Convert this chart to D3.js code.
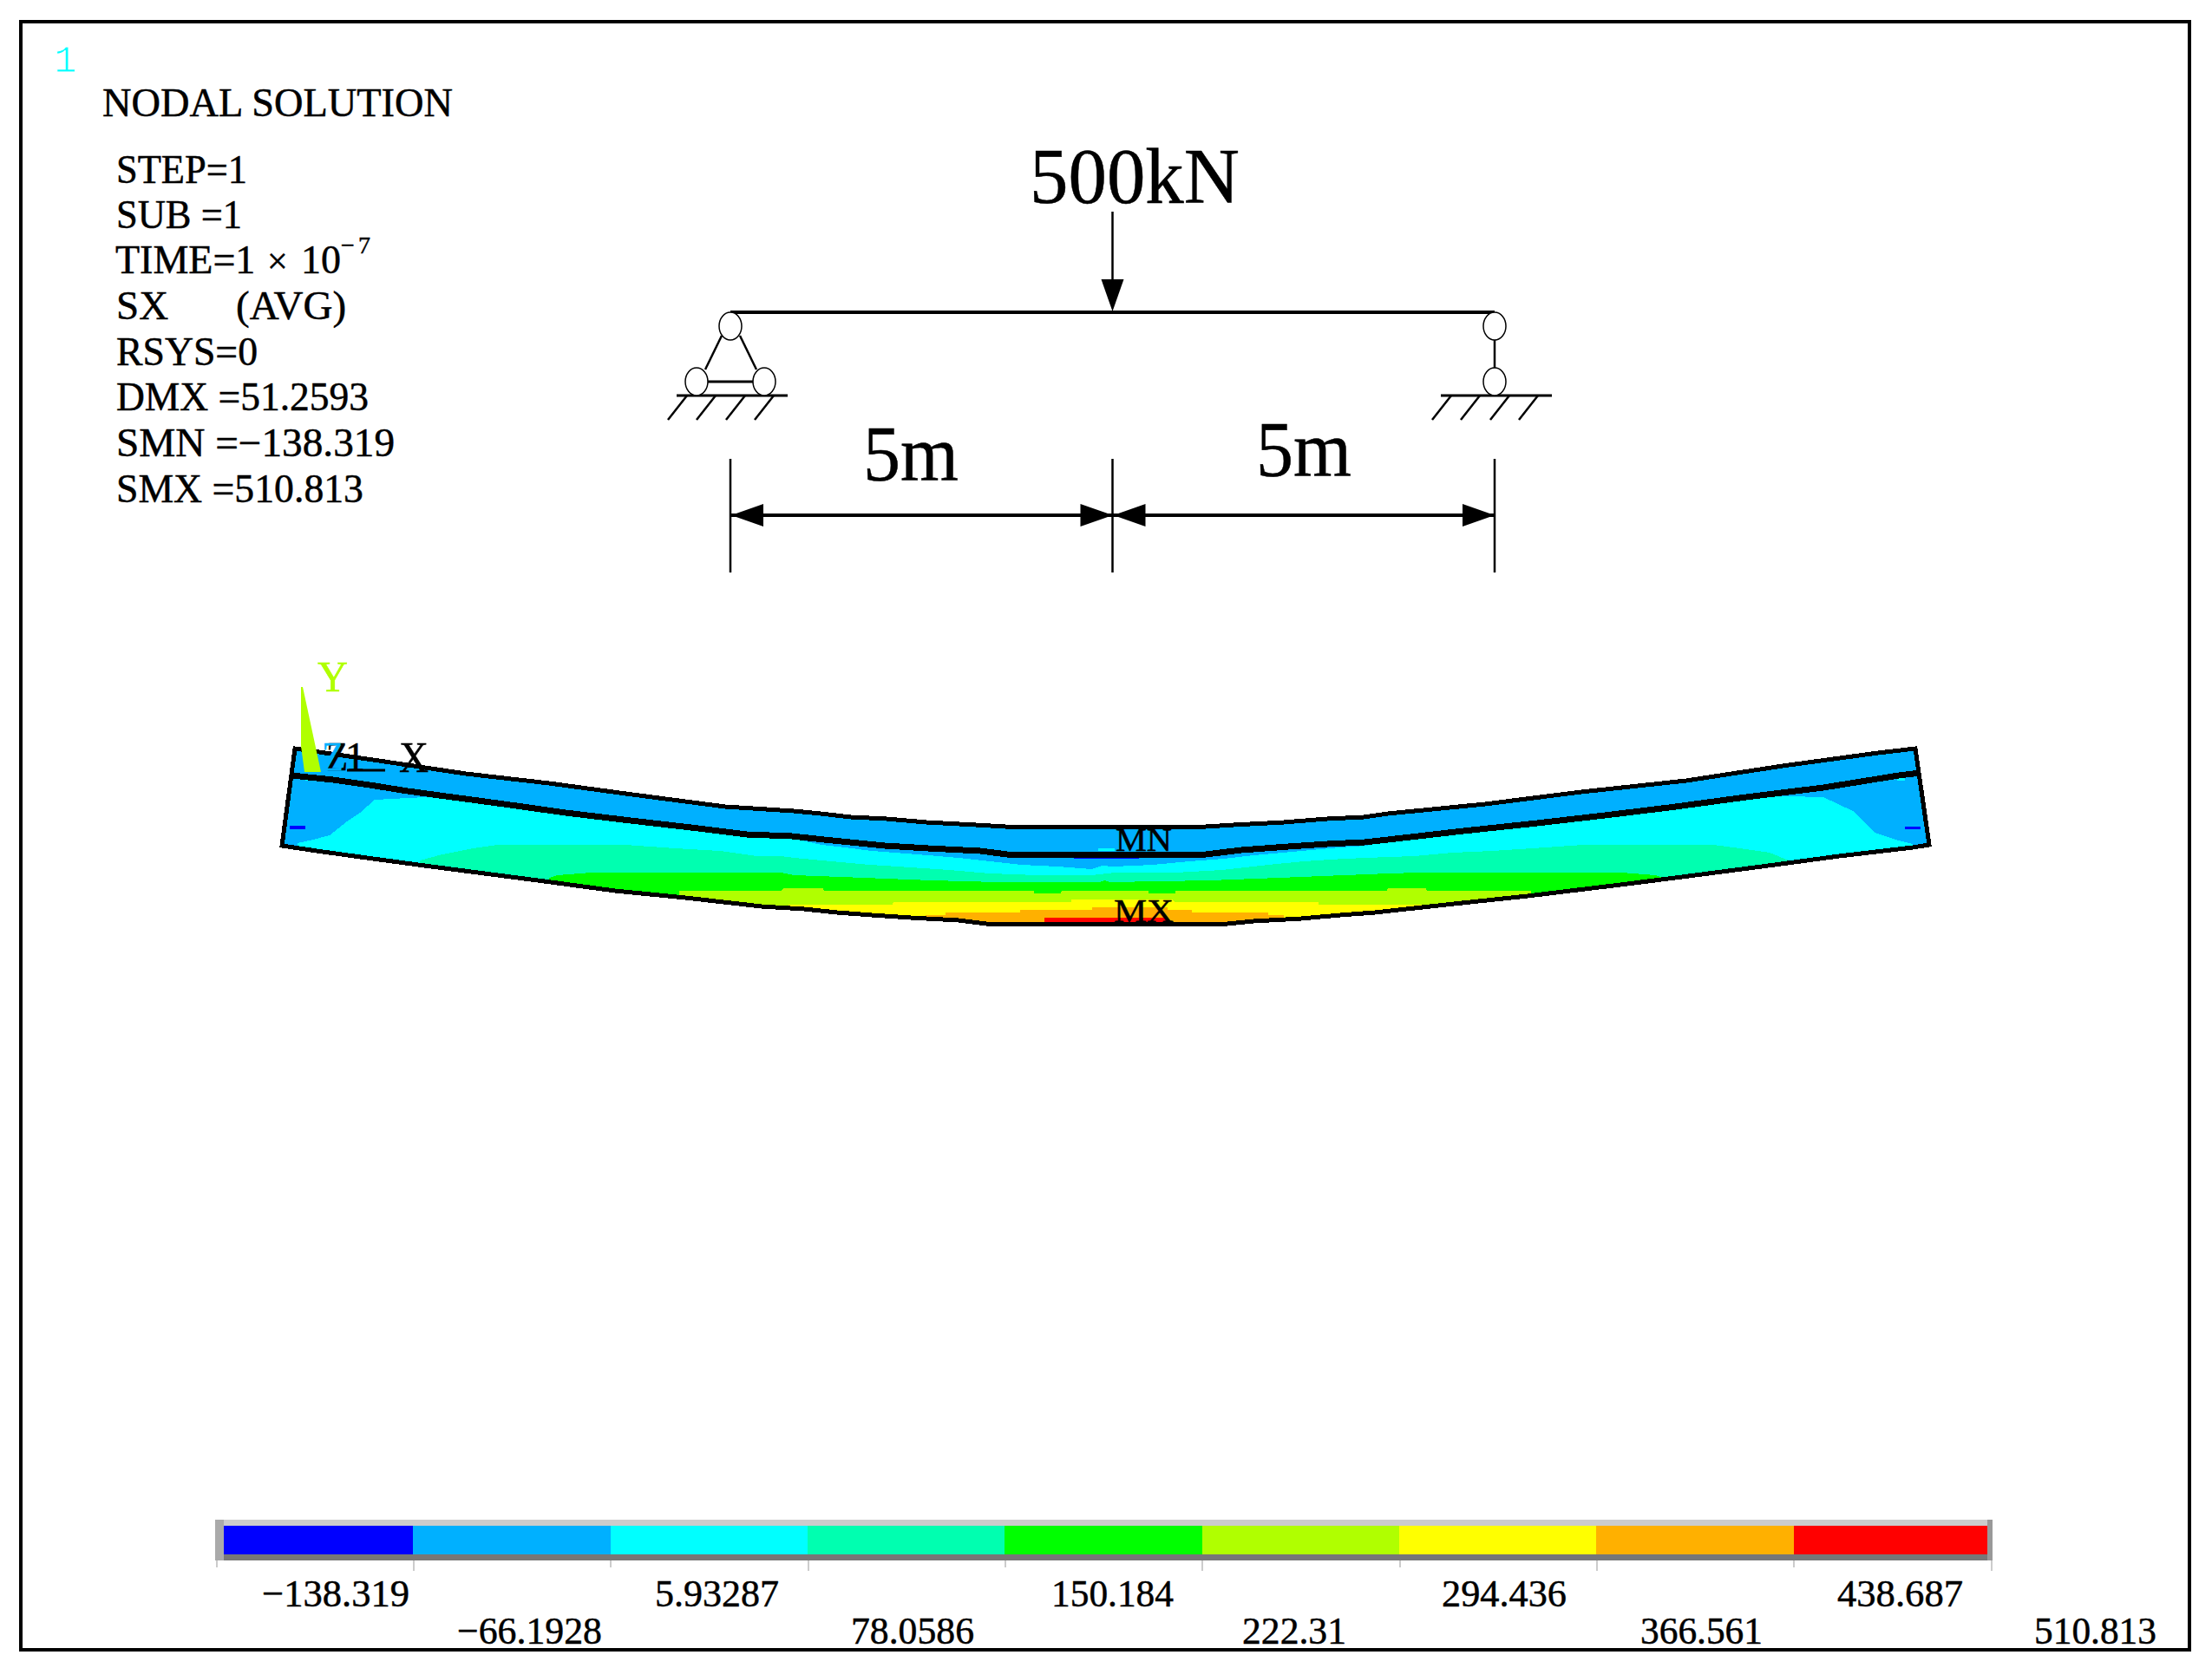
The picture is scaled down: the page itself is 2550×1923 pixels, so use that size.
<!DOCTYPE html>
<html>
<head>
<meta charset="utf-8">
<script src="https://d3js.org/d3.v7.min.js"></script>
<style>
  body { margin: 0; background: #fff; }
  svg { display: block; }
  text { font-family: "Liberation Serif", serif; }
</style>
</head>
<body>
<div id="chart"></div>
<script>
// legend values and colours
var levels = [-138.319, -66.1928, 5.93287, 78.0586, 150.184, 222.31, 294.436, 366.561, 438.687, 510.813];
var levelLabels = ["\u2212138.319", "\u221266.1928", "5.93287", "78.0586", "150.184", "222.31", "294.436", "366.561", "438.687", "510.813"];
var levelColors = ["#0000ff", "#00b0ff", "#00ffff", "#00ffb0", "#00ff00", "#b0ff00", "#ffff00", "#ffb000", "#ff0000"];

// header text
var headerLines = ["STEP=1", "SUB =1", "RSYS=0", "DMX =51.2593", "SMN =\u2212138.319", "SMX =510.813"];

// beam outline, [along beam, drop]
var topEdge = [[20,13],[65,26],[118.5,42],[166.5,53],[214.5,66],[268,80],[307.5,85],[323,88],[340.5,92],[361,94],[384,98],[412.5,101],[429.5,103],[545,103],[561,101],[590,98],[615,94],[636,92],[650,88],[706,77],[761.5,63],[822,50],[877.5,33],[932.5,18],[954,13]];
var midLine = [[18,44],[42,49],[63,55],[85,62],[107,68],[140.5,77],[176,87],[213.5,96],[252.5,105],[280.5,112],[306.5,114],[325,118],[340,121],[360,125],[385,128],[415,131],[430.5,135],[545,135],[565.5,130],[592.5,126],[615,123],[636.5,121],[650,118],[693.5,108],[736,99],[775,90],[812,81],[856.5,69],[901,58],[944.5,44],[957,41]];
var bottomEdge = [[12.5,125],[32.5,131],[65,140],[98.5,149],[133,158],[167.5,167],[204.5,177],[245,185],[289,195],[313.5,198],[332.5,202],[352.5,205],[375,208],[402.5,211],[418.5,215],[557.5,215],[572.5,212],[600,209],[622.5,205],[642.5,202],[688,192],[730.5,183],[784,170],[819.5,161],[865.5,149],[910,137],[952.5,127],[962,124]];

// upper limit of each stress band
var cyanBand = [[21.5,122],[30.5,118],[40,113],[50,97],[57.5,87],[66,72],[95.5,69],[116.5,72],[140.5,77],[176,87],[213.5,96],[252.5,105],[280.5,112],[310,118],[323.5,124],[337,127],[352.5,131],[385,136],[402.5,139],[420.5,143],[438.5,147],[459.5,149],[479.5,152],[485,148],[492,149],[514.5,147],[535.5,143],[555.5,140],[572.5,136],[589,133],[622.5,127],[637,125],[650,120],[678,113],[736,99],[775,90],[812,81],[856.5,69],[880,68],[901,69],[918,85],[931,110],[942.5,118],[952.5,123]];
var springBand = [[92,142],[105,135],[122.5,128],[137,124],[210.5,124],[239,128],[265,131],[286.5,137],[300,137],[308,139],[329,143],[351.5,147],[375,150],[397,153],[420.5,157],[447.5,159],[479.5,159],[493,156],[527.5,156],[554.5,153],[581,147],[601.5,143],[625,140],[650,138],[665.5,137],[687,133],[710,131],[733.5,128],[762.5,124],[837.5,124],[853,128],[870,133],[881,142]];
var greenBand = [[166.5,162],[171,159],[190.5,156],[300,156],[308,159],[348,162],[387,165],[425,167],[484,167],[486.5,165],[489.5,167],[547.5,165],[587,162],[625,159],[650,157],[667.5,156],[785,156],[804,159],[808.5,162]];
var limeBand = [[241.5,177],[300,177],[302,174],[324.5,174],[325,177],[446,177],[446,180],[461.5,180],[462,177],[512,177],[512,180],[527.5,180],[527.5,177],[649.5,177],[650,174],[672,174],[672.5,177],[732.5,177],[732.5,180]];
var yellowBand = [[304.5,193],[364.5,193],[365,190],[467.5,190],[467.5,187],[525.5,187],[527.5,190],[610,190],[610,193],[670,193]];
var orangeBand = [[383.5,205],[395,205],[395,202],[438,202],[438,199],[479.5,199],[479.5,196],[523,196],[523,199],[537,199],[537,202],[581,202],[581,205],[590,205]];
var redBand = [[452,208],[523,208]];

// small patches, [x0, y0, x1, y1]
var darkBlueSpots = [[17,102,26,106],[469,137,506.5,140],[948,103,957,106]];
var cyanSpots = [[26,47,30.5,50],[483,128,492.5,131],[943.5,47,948,50]];

// loading sketch, metres
var supports = [0, 10];
var loadAt = 5;

var svgWidth = 2550;
var svgHeight = 1923;

var svg = d3.select("#chart")
  .append("svg")
  .attr("width", svgWidth)
  .attr("height", svgHeight);

svg.append("rect")
  .attr("width", svgWidth)
  .attr("height", svgHeight)
  .attr("fill", "#fff");

svg.append("rect")
  .attr("x", 24)
  .attr("y", 25)
  .attr("width", 2500)
  .attr("height", 1877)
  .attr("fill", "none")
  .attr("stroke", "#000")
  .attr("stroke-width", 4);

function label(parent, str, x, y, size, fill, len) {
  var t = parent.append("text")
    .attr("x", x)
    .attr("y", y)
    .attr("font-size", size)
    .attr("fill", fill || "#000")
    .attr("stroke", fill || "#000")
    .attr("stroke-width", 0.5)
    .text(str);
  if (len) t.attr("textLength", len).attr("lengthAdjust", "spacingAndGlyphs");
  return t;
}

// ---- header block ----
svg.append("text")
  .attr("x", 62)
  .attr("y", 83)
  .attr("font-size", 44)
  .attr("fill", "#00ffff")
  .attr("stroke", "#fff")
  .attr("stroke-width", 1)
  .style("font-family", "'Liberation Mono', monospace")
  .text("1");

label(svg, "NODAL SOLUTION", 118, 134, 47, "#000", 404);

var headerY = [211, 263, 421, 473, 526, 579];
var headerEnd = [285, 279, 297, 425, 455, 419];
headerLines.forEach(function(line, i) {
  label(svg, line, 134, headerY[i], 46, "#000", headerEnd[i] - 134);
});

var timeText = svg.append("text").attr("y", 315).attr("font-size", 46).attr("stroke", "#000").attr("stroke-width", 0.5);
timeText.append("tspan").attr("x", 133).text("TIME=1");
timeText.append("tspan").attr("x", 308).attr("font-size", 42).text("\u00d7");
timeText.append("tspan").attr("x", 347).text("10");
timeText.append("tspan").attr("x", 393).attr("dy", -23).attr("font-size", 28).text("\u2212");
timeText.append("tspan").attr("x", 413).attr("font-size", 28).text("7");

var sxText = svg.append("text").attr("y", 368).attr("font-size", 47).attr("stroke", "#000").attr("stroke-width", 0.5);
sxText.append("tspan").attr("x", 134).text("SX");
sxText.append("tspan").attr("x", 272).text("(AVG)");

// ---- loading sketch ----
var spanScale = d3.scaleLinear().domain([0, 10]).range([842, 1723]);
var sketch = svg.append("g").attr("stroke", "#000").attr("fill", "none");

function sketchLine(x1, y1, x2, y2, w) {
  sketch.append("line")
    .attr("x1", x1).attr("y1", y1)
    .attr("x2", x2).attr("y2", y2)
    .attr("stroke-width", w || 2.5);
}

function head(points) {
  sketch.append("polygon")
    .attr("points", points.join(" "))
    .attr("fill", "#000")
    .attr("stroke", "none");
}

function pin(x, y) {
  sketch.append("ellipse")
    .attr("cx", x).attr("cy", y)
    .attr("rx", 13).attr("ry", 16)
    .attr("fill", "#fff")
    .attr("stroke-width", 1.5);
}

var beamY = 360;
var upperPinY = 376;
var lowerPinY = 440;
var groundY = 456;
var loadX = spanScale(loadAt);

sketchLine(spanScale(supports[0]), beamY, spanScale(supports[1]), beamY, 4);

// load arrow
sketchLine(loadX, 244, loadX, 325);
head([[loadX - 13, 322], [loadX + 13, 322], [loadX, 359]]);

supports.forEach(function(s) {
  var x = spanScale(s);
  sketchLine(x - 62, groundY, x + 66, groundY, 3);
  [-50, -17, 17, 50].forEach(function(dx) {
    sketchLine(x + dx, groundY, x + dx - 22, 484);
  });
});

// hinged support on the left
var leftX = spanScale(supports[0]);
sketchLine(leftX - 10, 387, leftX - 29, 426);
sketchLine(leftX + 11, 387, leftX + 30, 426);
sketchLine(leftX - 26, lowerPinY, leftX + 27, lowerPinY, 3);
pin(leftX, upperPinY);
pin(leftX - 39, lowerPinY);
pin(leftX + 39, lowerPinY);

// roller on the right
var rightX = spanScale(supports[1]);
sketchLine(rightX, 392, rightX, 425);
pin(rightX, upperPinY);
pin(rightX, lowerPinY);

// dimensions
var dimY = 594;
[supports[0], loadAt, supports[1]].forEach(function(s) {
  sketchLine(spanScale(s), 529, spanScale(s), 660);
});
sketchLine(spanScale(supports[0]), dimY, spanScale(supports[1]), dimY, 4);
head([[leftX + 1, dimY], [leftX + 38, dimY - 13], [leftX + 38, dimY + 13]]);
head([[loadX, dimY], [loadX - 37, dimY - 13], [loadX - 37, dimY + 13]]);
head([[loadX + 1, dimY], [loadX + 38, dimY - 13], [loadX + 38, dimY + 13]]);
head([[rightX, dimY], [rightX - 37, dimY - 13], [rightX - 37, dimY + 13]]);

label(svg, "500kN", 1187, 234, 90, "#000", 242);
label(svg, "5m", 995, 554, 90, "#000", 110);
label(svg, "5m", 1448, 549, 90, "#000", 110);

// ---- deformed beam ----
var xScale = d3.scaleLinear().domain([0, 1000]).range([300, 2300]);
var yScale = d3.scaleLinear().domain([0, 250]).range([850, 1100]);

var edge = d3.line()
  .x(function(d) { return xScale(d[0]); })
  .y(function(d) { return yScale(d[1]); });

var band = d3.area()
  .x(function(d) { return xScale(d[0]); })
  .y0(function(d) { return yScale(d[1]); })
  .y1(yScale(250));

var outline = topEdge.concat(bottomEdge.slice().reverse());

svg.append("clipPath")
  .attr("id", "beamClip")
  .append("path")
  .attr("d", edge(outline) + "Z");

var beam = svg.append("g").attr("shape-rendering", "crispEdges");
var fills = beam.append("g").attr("clip-path", "url(#beamClip)");

fills.append("path")
  .attr("d", edge(outline) + "Z")
  .attr("fill", levelColors[1]);

var bands = [cyanBand, springBand, greenBand, limeBand, yellowBand, orangeBand, redBand];
bands.forEach(function(b, i) {
  fills.append("path")
    .attr("d", band(b))
    .attr("fill", levelColors[i + 2]);
});

function spots(data, color) {
  beam.selectAll(null)
    .data(data)
    .enter()
    .append("rect")
    .attr("x", function(d) { return xScale(d[0]); })
    .attr("y", function(d) { return yScale(d[1]); })
    .attr("width", function(d) { return xScale(d[2]) - xScale(d[0]); })
    .attr("height", function(d) { return yScale(d[3]) - yScale(d[1]); })
    .attr("fill", color);
}
spots(darkBlueSpots, levelColors[0]);
spots(cyanSpots, levelColors[2]);

beam.append("path")
  .attr("d", edge(outline) + "Z")
  .attr("fill", "none")
  .attr("stroke", "#000")
  .attr("stroke-width", 5);

beam.append("path")
  .attr("d", edge(midLine))
  .attr("fill", "none")
  .attr("stroke", "#000")
  .attr("stroke-width", 7);

// ---- triad and markers ----
svg.append("polygon")
  .attr("points", [[347, 792], [349, 792], [370, 890], [351, 890], [347, 860]].join(" "))
  .attr("fill", "#b0ff00");

label(svg, "Y", 366, 797, 50, "#b0ff00", 35);
label(svg, "Z", 376, 888, 46, "#000", 25);
label(svg, "Z", 371, 888, 46, "#00b0ff", 25);
label(svg, "1", 398, 888, 46, "#000");
svg.append("line")
  .attr("x1", 400).attr("y1", 888)
  .attr("x2", 444).attr("y2", 888)
  .attr("stroke", "#000")
  .attr("stroke-width", 3);
label(svg, "X", 460, 890, 50, "#000", 34);

label(svg, "MN", 1286, 981, 38, "#000", 65);
label(svg, "MX", 1284, 1063, 38, "#000", 69);

// ---- legend ----
var legendScale = d3.scaleLinear()
  .domain([levels[0], levels[levels.length - 1]])
  .range([249, 2295]);

var legend = svg.append("g").attr("shape-rendering", "crispEdges");

legend.append("rect")
  .attr("x", 248).attr("y", 1752)
  .attr("width", 2049).attr("height", 7)
  .attr("fill", "#cccccc");

legend.selectAll(".cell")
  .data(levelColors)
  .enter()
  .append("rect")
  .attr("class", "cell")
  .attr("x", function(d, i) { return legendScale(levels[i]); })
  .attr("y", 1759)
  .attr("width", function(d, i) { return legendScale(levels[i + 1]) - legendScale(levels[i]); })
  .attr("height", 33)
  .attr("fill", function(d) { return d; });

legend.append("rect")
  .attr("x", 248).attr("y", 1792)
  .attr("width", 2049).attr("height", 7)
  .attr("fill", "#777777");

legend.append("rect")
  .attr("x", 248).attr("y", 1752)
  .attr("width", 10).attr("height", 47)
  .attr("fill", "#aaaaaa");

legend.append("rect")
  .attr("x", 2291).attr("y", 1752)
  .attr("width", 6).attr("height", 47)
  .attr("fill", "#999999");

var legendAxis = d3.axisBottom(legendScale)
  .tickValues(levels)
  .tickSize(12)
  .tickFormat("");

var axisGroup = legend.append("g")
  .attr("transform", "translate(0, 1799)")
  .call(legendAxis);
axisGroup.select(".domain").remove();
axisGroup.selectAll("line")
  .attr("stroke", "#cccccc")
  .attr("stroke-width", 2)
  .attr("y2", function(d, i) { return i % 2 ? 12 : 8; });

var labelStart = [302, 527, 755, 981, 1212, 1432, 1662, 1891, 2118, 2345];
var labelEnd = [472, 694, 898, 1123, 1353, 1552, 1806, 2032, 2263, 2486];
levelLabels.forEach(function(txt, i) {
  label(svg, txt, labelStart[i], i % 2 ? 1895 : 1852, 45, "#000", labelEnd[i] - labelStart[i]);
});
</script>
</body>
</html>
